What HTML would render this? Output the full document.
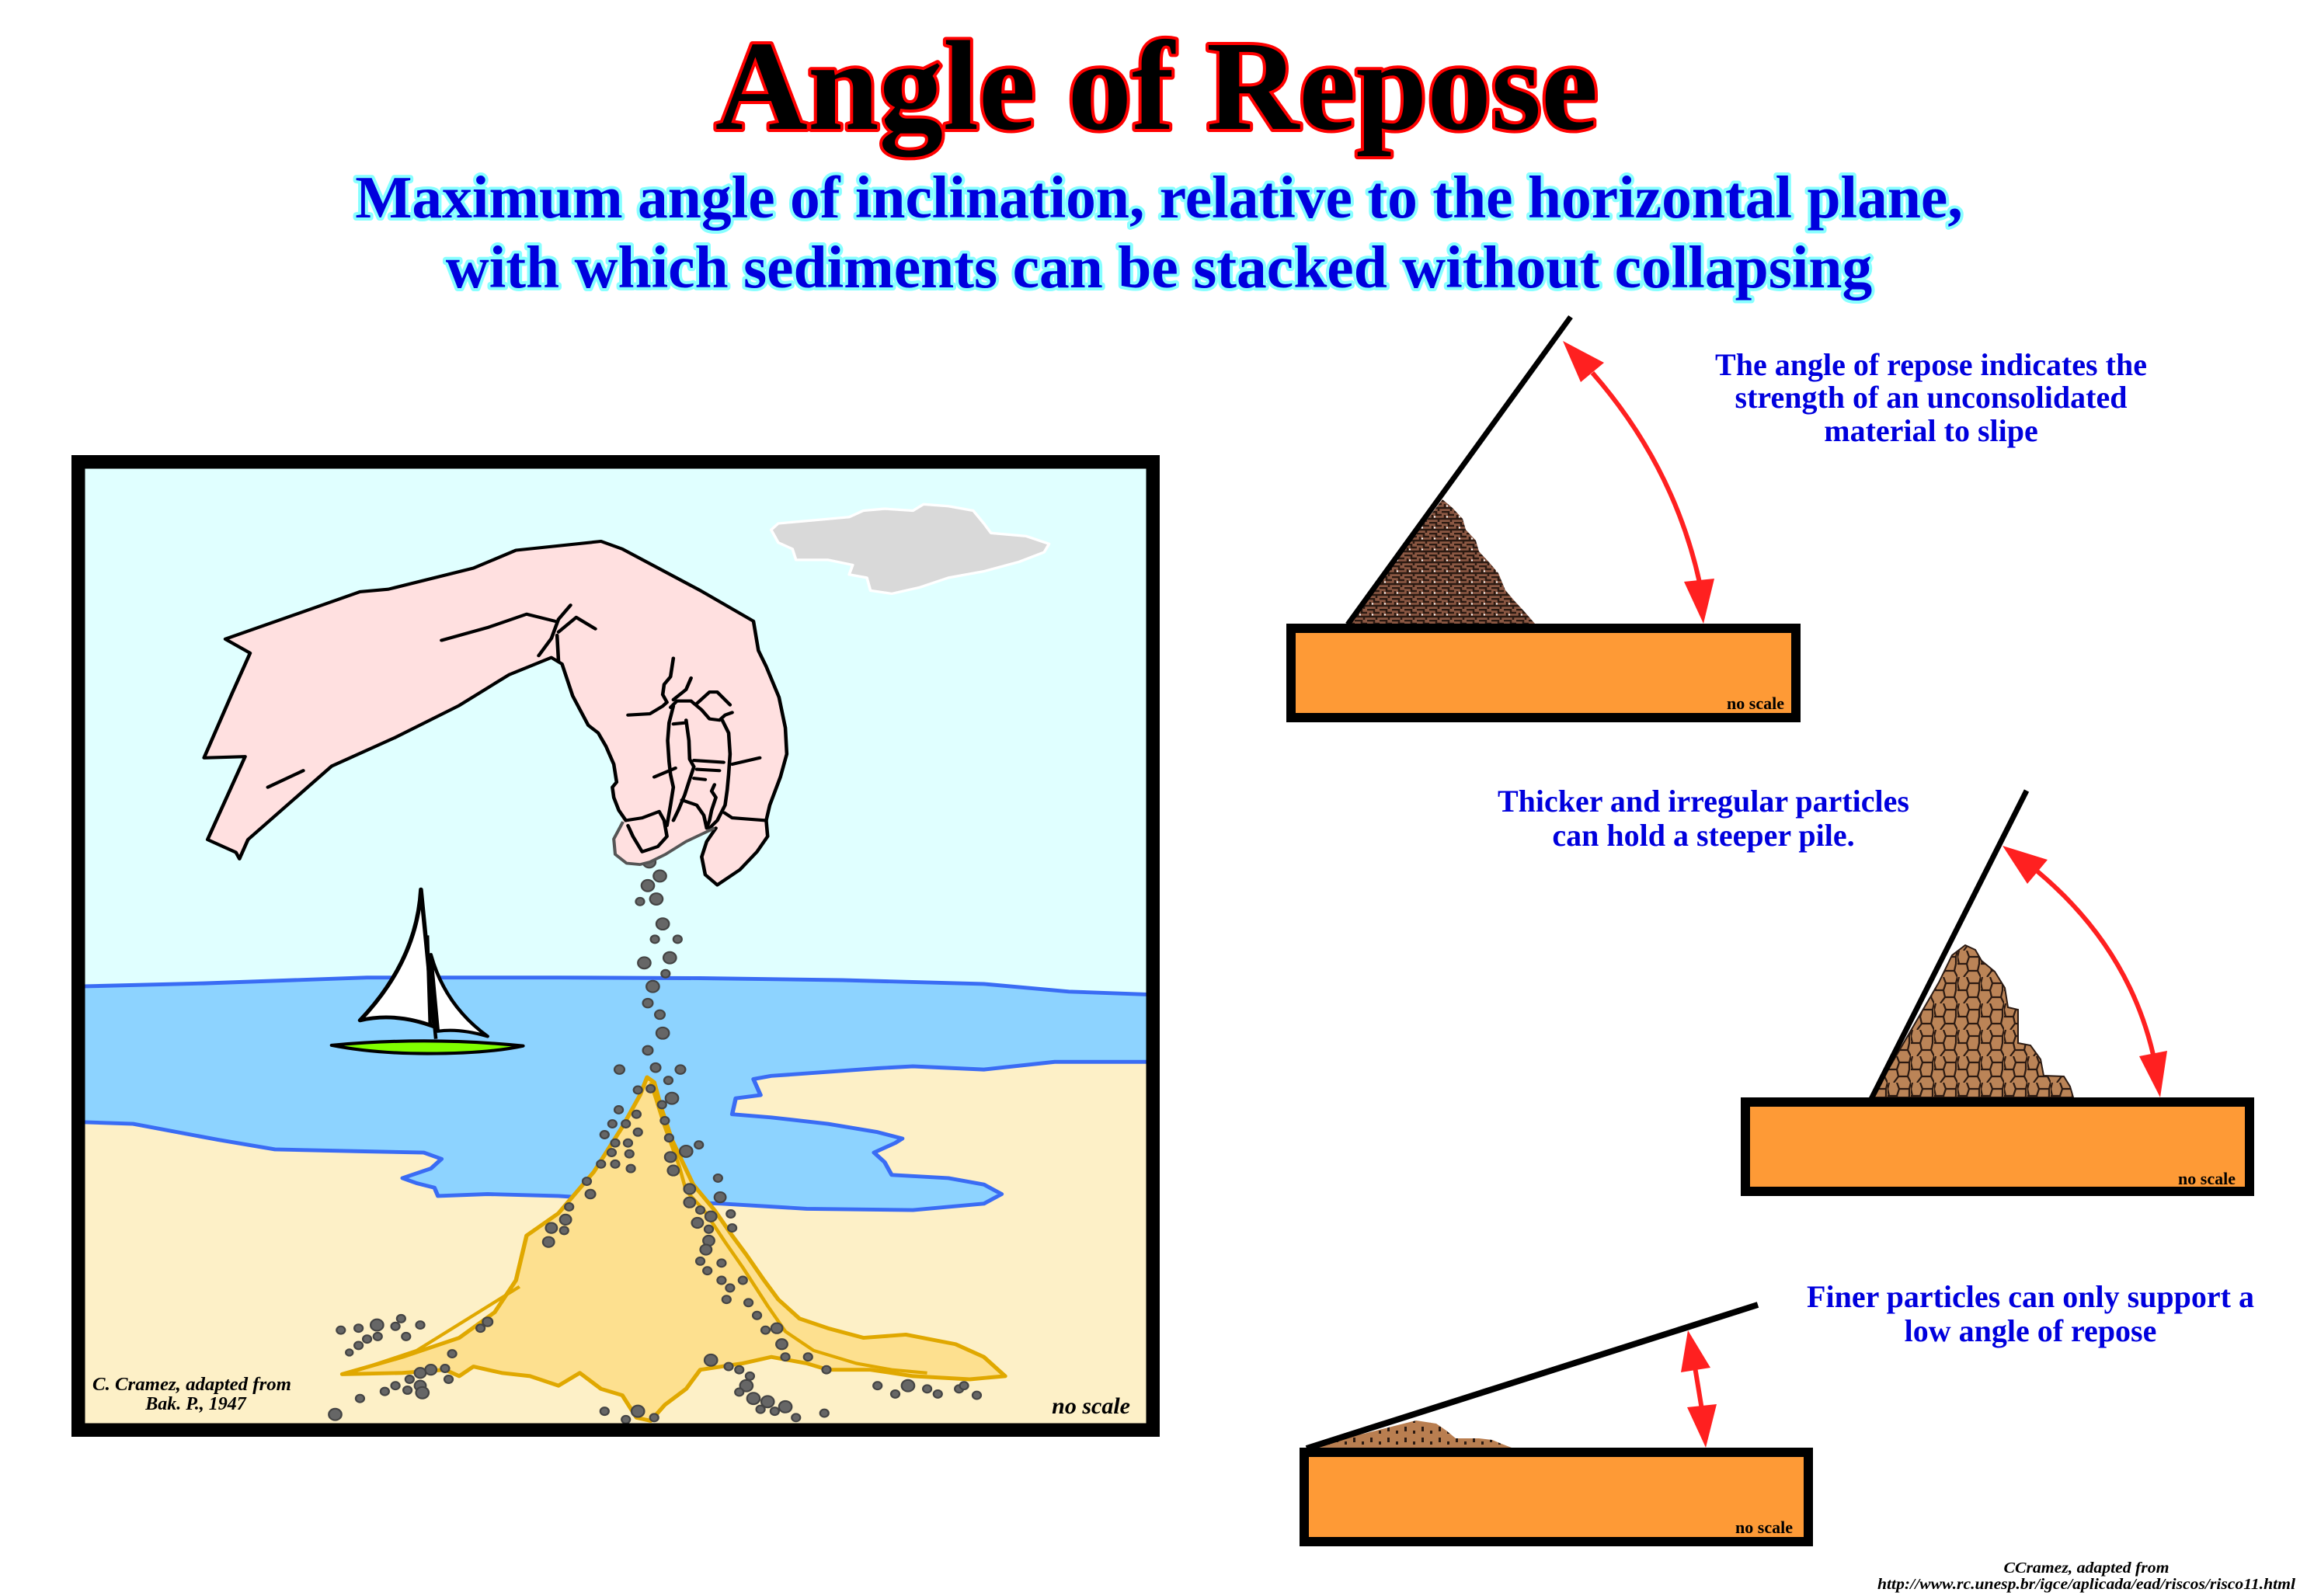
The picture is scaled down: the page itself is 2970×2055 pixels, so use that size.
<!DOCTYPE html>
<html><head><meta charset="utf-8"><style>html,body{margin:0;padding:0;background:#fff;}svg{display:block}</style></head>
<body>
<svg xmlns="http://www.w3.org/2000/svg" width="2970" height="2055" viewBox="0 0 2970 2055">
<defs>
<pattern id="p1" width="16" height="14" patternUnits="userSpaceOnUse">
<rect width="16" height="14" fill="#8b5843"/>
<path d="M0 1H9V5H16M4 5V10H12V14M12 10H16M0 10H4" stroke="#2b1a12" stroke-width="2.5" fill="none"/>
<rect x="6" y="6.5" width="2" height="2" fill="#fff"/>
</pattern>
<pattern id="p2" width="30" height="34" patternUnits="userSpaceOnUse">
<rect width="30" height="34" fill="#bb8457"/>
<path d="M2 0L0 8L2 17L12 17L15 8L12 0M15 8L28 8L30 0M12 17L14 26L8 34M14 26L26 26L28 17L28 8M26 26L30 34M0 17L2 17" stroke="#2b1a12" stroke-width="2.2" fill="none"/>
</pattern>
<pattern id="p3" width="22" height="14" patternUnits="userSpaceOnUse">
<rect width="22" height="14" fill="#b97e50"/>
<rect x="4" y="3" width="3" height="6" fill="#2b1a12"/>
<rect x="15" y="8" width="3" height="4" fill="#2b1a12"/>
</pattern>
</defs>

<!-- Title -->
<text x="1489" y="166" text-anchor="middle" font-family="'Liberation Serif', serif" font-weight="bold" font-size="165" fill="#000" stroke="#ff0000" stroke-width="8" stroke-linejoin="round" paint-order="stroke">Angle of Repose</text>
<text x="1492" y="280" text-anchor="middle" font-family="'Liberation Serif', serif" font-weight="bold" font-size="77.5" fill="#0000dd" stroke="#88ffff" stroke-width="8" stroke-linejoin="round" paint-order="stroke">Maximum angle of inclination, relative to the horizontal plane,</text>
<text x="1492" y="370" text-anchor="middle" font-family="'Liberation Serif', serif" font-weight="bold" font-size="77.5" fill="#0000dd" stroke="#88ffff" stroke-width="8" stroke-linejoin="round" paint-order="stroke">with which sediments can be stacked without collapsing</text>

<!-- Scene -->
<g transform="translate(80.1 579.4) scale(0.9127 0.8224)">
<rect x="20" y="20" width="1520" height="1510" fill="#e0ffff"/>
<rect x="20" y="950" width="1520" height="580" fill="#fdf0c7"/>
<path d="M20 840L200 835L430 826L700 826L900 827L1100 830L1300 836L1420 848L1545 853L1545 958L1400 958L1300 970L1200 965L1150 968L1000 980L975 985L985 1010L950 1015L945 1040L1000 1045L1080 1055L1150 1068L1185 1078L1175 1085L1145 1100L1160 1115L1170 1135L1250 1140L1300 1150L1325 1165L1300 1180L1200 1190L1050 1188L930 1180L800 1175L700 1168L600 1165L530 1168L525 1155L500 1148L480 1140L520 1125L535 1110L510 1100L420 1098L300 1095L220 1080L100 1055L20 1052Z" fill="#8dd3ff" stroke="#3a6cf4" stroke-width="6" stroke-linejoin="round"/>
<!-- cloud -->
<path d="M1000 125L1010 115L1060 110L1110 105L1130 95L1160 92L1200 95L1215 85L1250 88L1285 95L1300 115L1310 130L1360 135L1392 147L1385 160L1350 175L1300 190L1250 200L1210 215L1170 225L1140 220L1135 200L1110 195L1115 180L1080 172L1035 172L1030 155L1010 145Z" fill="#d9d9d9" stroke="#fff" stroke-width="4" stroke-linejoin="round"/>
<!-- boat -->
<path d="M506 688Q500 800 420 893Q470 880 525 903Z" fill="#fff" stroke="#000" stroke-width="6" stroke-linejoin="round"/>
<path d="M520 790Q540 870 600 918Q560 905 530 910Z" fill="#fff" stroke="#000" stroke-width="5" stroke-linejoin="round"/>
<path d="M506 687L527 922M515 760L519 900" stroke="#000" stroke-width="5" fill="none"/>
<path d="M380 932Q515 918 650 933Q600 945 515 945Q440 945 380 932Z" fill="#80ff00" stroke="#000" stroke-width="5" stroke-linejoin="round"/>
<!-- pile -->
<path d="M395 1447L480 1420L560 1390L610 1350L640 1300L655 1230L700 1195L750 1130L790 1060L815 1010L825 982L835 990L845 1030L860 1080L890 1150L920 1190L945 1230L965 1260L990 1300L1010 1330L1040 1360L1080 1375L1130 1390L1190 1385L1260 1400L1300 1420L1330 1450L1280 1455L1200 1450L1140 1440L1080 1440L1050 1430L1000 1420L960 1430L900 1440L880 1470L850 1495L830 1520L810 1515L790 1480L760 1470L730 1445L700 1465L660 1450L620 1445L580 1435L560 1450L540 1440L480 1445Z" fill="#fde08f" stroke="#e0a800" stroke-width="6" stroke-linejoin="round"/>
<path d="M405 1445L500 1410L645 1310M830 990L850 1060L870 1120L880 1160L905 1190L935 1240L960 1280L995 1340L1020 1380L1060 1410L1120 1430L1170 1440L1220 1445" fill="none" stroke="#e0a800" stroke-width="5" stroke-linejoin="round"/>
<!-- pebbles -->
<g fill="#666" stroke="#444" stroke-width="2.5">
<circle cx="828" cy="645" r="9"/><circle cx="843" cy="667" r="9"/><circle cx="826" cy="682" r="9"/><circle cx="838" cy="703" r="9"/><circle cx="815" cy="707" r="6"/><circle cx="847" cy="742" r="9"/><circle cx="836" cy="766" r="6"/><circle cx="868" cy="766" r="6"/><circle cx="857" cy="795" r="9"/><circle cx="821" cy="803" r="9"/><circle cx="851" cy="820" r="6"/><circle cx="833" cy="840" r="9"/><circle cx="826" cy="866" r="7"/><circle cx="843" cy="884" r="7"/><circle cx="847" cy="913" r="9"/><circle cx="826" cy="940" r="7"/><circle cx="786" cy="970" r="7"/><circle cx="837" cy="967" r="7"/><circle cx="872" cy="970" r="7"/><circle cx="855" cy="987" r="6"/><circle cx="830" cy="1000" r="6"/><circle cx="812" cy="1002" r="6"/><circle cx="860" cy="1015" r="9"/><circle cx="846" cy="1025" r="6"/><circle cx="785" cy="1033" r="6"/><circle cx="810" cy="1040" r="6"/><circle cx="850" cy="1050" r="6"/><circle cx="776" cy="1055" r="6"/><circle cx="795" cy="1055" r="6"/><circle cx="812" cy="1068" r="6"/><circle cx="765" cy="1072" r="6"/><circle cx="780" cy="1085" r="6"/><circle cx="798" cy="1085" r="6"/><circle cx="775" cy="1100" r="6"/><circle cx="800" cy="1102" r="6"/><circle cx="856" cy="1077" r="6"/><circle cx="898" cy="1088" r="6"/><circle cx="880" cy="1098" r="9"/><circle cx="858" cy="1107" r="8"/><circle cx="862" cy="1128" r="8"/><circle cx="760" cy="1118" r="6"/><circle cx="780" cy="1118" r="6"/><circle cx="802" cy="1125" r="6"/><circle cx="740" cy="1145" r="6"/><circle cx="745" cy="1165" r="7"/><circle cx="885" cy="1157" r="8"/><circle cx="925" cy="1140" r="6"/><circle cx="885" cy="1178" r="8"/><circle cx="928" cy="1170" r="8"/><circle cx="715" cy="1185" r="6"/><circle cx="900" cy="1190" r="6"/><circle cx="943" cy="1196" r="6"/><circle cx="896" cy="1210" r="8"/><circle cx="915" cy="1200" r="8"/><circle cx="710" cy="1205" r="8"/><circle cx="690" cy="1218" r="8"/><circle cx="708" cy="1222" r="6"/><circle cx="945" cy="1218" r="6"/><circle cx="912" cy="1220" r="6"/><circle cx="686" cy="1240" r="8"/><circle cx="912" cy="1238" r="8"/><circle cx="908" cy="1252" r="8"/><circle cx="900" cy="1270" r="6"/><circle cx="930" cy="1273" r="6"/><circle cx="910" cy="1285" r="6"/><circle cx="930" cy="1300" r="6"/><circle cx="960" cy="1300" r="6"/><circle cx="942" cy="1312" r="6"/><circle cx="937" cy="1330" r="6"/><circle cx="968" cy="1335" r="6"/><circle cx="980" cy="1355" r="6"/><circle cx="1008" cy="1375" r="8"/><circle cx="992" cy="1378" r="6"/><circle cx="1015" cy="1400" r="8"/><circle cx="1020" cy="1420" r="6"/><circle cx="1052" cy="1420" r="6"/><circle cx="1078" cy="1440" r="6"/><circle cx="915" cy="1425" r="9"/><circle cx="940" cy="1435" r="6"/><circle cx="955" cy="1440" r="6"/><circle cx="970" cy="1450" r="6"/><circle cx="965" cy="1465" r="9"/><circle cx="955" cy="1475" r="6"/><circle cx="975" cy="1485" r="9"/><circle cx="995" cy="1490" r="9"/><circle cx="985" cy="1502" r="6"/><circle cx="1005" cy="1505" r="6"/><circle cx="1020" cy="1498" r="9"/><circle cx="1035" cy="1515" r="6"/><circle cx="1075" cy="1508" r="6"/><circle cx="1150" cy="1465" r="6"/><circle cx="1175" cy="1478" r="6"/><circle cx="1193" cy="1465" r="9"/><circle cx="1220" cy="1470" r="6"/><circle cx="1235" cy="1478" r="6"/><circle cx="1265" cy="1470" r="6"/><circle cx="1290" cy="1480" r="6"/><circle cx="1272" cy="1465" r="6"/><circle cx="600" cy="1365" r="7"/><circle cx="590" cy="1375" r="6"/><circle cx="550" cy="1415" r="6"/><circle cx="540" cy="1438" r="6"/><circle cx="505" cy="1445" r="8"/><circle cx="520" cy="1440" r="8"/><circle cx="490" cy="1455" r="6"/><circle cx="505" cy="1465" r="8"/><circle cx="470" cy="1465" r="6"/><circle cx="487" cy="1472" r="6"/><circle cx="455" cy="1474" r="6"/><circle cx="508" cy="1476" r="9"/><circle cx="545" cy="1455" r="6"/><circle cx="420" cy="1485" r="6"/><circle cx="385" cy="1510" r="9"/><circle cx="393" cy="1378" r="6"/><circle cx="418" cy="1375" r="6"/><circle cx="444" cy="1370" r="9"/><circle cx="470" cy="1372" r="6"/><circle cx="478" cy="1360" r="6"/><circle cx="505" cy="1370" r="6"/><circle cx="430" cy="1392" r="6"/><circle cx="445" cy="1388" r="6"/><circle cx="485" cy="1388" r="6"/><circle cx="418" cy="1402" r="6"/><circle cx="405" cy="1413" r="5"/><circle cx="812" cy="1505" r="9"/><circle cx="765" cy="1505" r="6"/><circle cx="795" cy="1518" r="6"/><circle cx="835" cy="1515" r="6"/>
</g>
<!-- hand -->
<path d="M230 296L420 222L460 218L580 185L640 157L760 143L790 155L900 220L975 268L982 314L993 339L1011 387L1020 435L1022 476L1013 512L998 556L993 580L995 605L980 629L956 657L924 681L907 665L902 637L909 613L922 592L880 613L851 633L829 645L815 649L796 647L780 633L778 609L791 582L785 564L778 544L776 528L782 520L778 492L767 464L756 443L742 431L720 385L705 335L690 325L630 352L560 400L470 450L380 495L262 610L250 640L245 630L205 610L258 480L200 482L240 380L265 318Z" fill="#ffe0e0"/>
<g fill="none" stroke="#000" stroke-width="5" stroke-linejoin="round" stroke-linecap="round">
<path d="M250 640L245 630L205 610L258 480L200 482L240 380L265 318L230 296L420 222L460 218L580 185L640 157L760 143L790 155L900 220L975 268L982 314L993 339L1011 387L1020 435L1022 476L1013 512L998 556L993 580L995 605L980 629L956 657L924 681L907 665L902 637L909 613L922 592"/>
<path d="M250 640L262 610L380 495L470 450L560 400L630 352L690 325L705 335L720 385L742 431L756 443L767 464L778 492L782 520L776 528L778 544L785 564L795 580"/>
<path d="M795 580L818 576L842 566L849 580L853 605L840 621L818 629L805 605L798 588"/>
<path d="M934 568L945 576L993 580"/>
<path d="M862 326L858 355L849 367L847 383L853 395L847 401L829 413L798 415"/>
<path d="M887 357L880 375L862 391"/>
<path d="M858 403L867 393L887 393L902 407L913 421L927 423L935 415L945 411"/>
<path d="M895 397L913 379L924 379L942 399"/>
<path d="M862 401L856 427L854 455L856 488L858 508L862 528L858 556L853 588"/>
<path d="M880 423L884 455L885 484L891 496L885 516L878 540L869 564L862 580"/>
<path d="M862 429L880 427"/>
<path d="M931 423L940 443L942 476L940 508L938 532L935 556L924 580L913 592"/>
<path d="M891 486L933 489M895 500L927 502M891 514L907 516"/>
<path d="M835 512L865 498"/>
<path d="M945 492L984 482"/>
<path d="M874 548L895 556L905 572L909 592"/>
<path d="M920 524L916 534L922 544L916 564L913 580L909 592"/>
<path d="M535 298L600 278L655 257L695 268"/>
<path d="M717 243L700 265L690 295L672 322"/>
<path d="M700 285L725 262L752 280"/>
<path d="M698 290L700 330"/>
<path d="M290 528L340 502"/>
</g>
<path d="M791 582L778 609L780 633L796 647L815 649L829 645L851 633L880 613L920 592" fill="none" stroke="#555" stroke-width="4.5" stroke-linejoin="round"/>
</g>
<!-- frame -->
<rect x="100.75" y="594.75" width="1383.5" height="1246.5" fill="none" stroke="#000" stroke-width="17.5"/>
<g font-family="'Liberation Serif', serif" font-style="italic" font-weight="bold" fill="#000">
<text x="247" y="1790" text-anchor="middle" font-size="24" textLength="256" lengthAdjust="spacingAndGlyphs">C. Cramez, adapted from</text>
<text x="252" y="1815" text-anchor="middle" font-size="24">Bak. P., 1947</text>
<text x="1455" y="1820" text-anchor="end" font-size="30">no scale</text>
</g>

<!-- Diagram 1 -->
<polygon points="1735,803 1857,643 1870,654 1883,668 1887,682 1900,696 1904,710 1917,724 1929,738 1938,760 1950,774 1963,788 1976,803" fill="url(#p1)"/>
<line x1="1735" y1="804" x2="2022" y2="408" stroke="#000" stroke-width="7"/>
<rect x="1662" y="809" width="650" height="115" fill="#fe9a36" stroke="#000" stroke-width="12"/>
<text x="2297" y="913" text-anchor="end" font-family="'Liberation Serif', serif" font-weight="bold" font-size="22">no scale</text>
<path d="M2050 480Q2155 600 2188 750" fill="none" stroke="#ff2020" stroke-width="6"/>
<polygon points="2012,439 2035,492 2065,467" fill="#ff2020"/>
<polygon points="2193,803 2168,749 2207,745" fill="#ff2020"/>
<g font-family="'Liberation Serif', serif" font-weight="bold" font-size="40" fill="#0000dd" text-anchor="middle">
<text x="2486" y="483">The angle of repose indicates the</text>
<text x="2486" y="525">strength of an unconsolidated</text>
<text x="2486" y="568">material to slipe</text>
<text x="2193" y="1045">Thicker and irregular particles</text>
<text x="2193" y="1089">can hold a steeper pile.</text>
<text x="2614" y="1683">Finer particles can only support a</text>
<text x="2614" y="1727">low angle of repose</text>
</g>

<!-- Diagram 2 -->
<polygon points="2410,1413 2496,1265 2513,1230 2530,1217 2543,1223 2551,1237 2568,1251 2581,1272 2585,1297 2598,1300 2598,1343 2614,1346 2627,1364 2631,1385 2657,1386 2665,1399 2669,1413" fill="url(#p2)" stroke="#2b1a12" stroke-width="2"/>
<line x1="2409" y1="1415" x2="2609" y2="1018" stroke="#000" stroke-width="7"/>
<rect x="2247" y="1419" width="649" height="115" fill="#fe9a36" stroke="#000" stroke-width="12"/>
<text x="2878" y="1525" text-anchor="end" font-family="'Liberation Serif', serif" font-weight="bold" font-size="22">no scale</text>
<path d="M2623 1122Q2740 1220 2772 1358" fill="none" stroke="#ff2020" stroke-width="6"/>
<polygon points="2578,1089 2610,1138 2636,1107" fill="#ff2020"/>
<polygon points="2781,1413 2754,1360 2790,1353" fill="#ff2020"/>

<!-- Diagram 3 -->
<polygon points="1684,1864 1823,1829 1849,1833 1862,1842 1874,1852 1904,1852 1921,1854 1933,1859 1946,1864" fill="url(#p3)"/>
<line x1="1682" y1="1865" x2="2263" y2="1680" stroke="#000" stroke-width="8"/>
<rect x="1679" y="1870" width="649" height="115" fill="#fe9a36" stroke="#000" stroke-width="12"/>
<text x="2308" y="1974" text-anchor="end" font-family="'Liberation Serif', serif" font-weight="bold" font-size="22">no scale</text>
<line x1="2182" y1="1760" x2="2191" y2="1815" stroke="#ff2020" stroke-width="6"/>
<polygon points="2173,1713 2164,1767 2202,1761" fill="#ff2020"/>
<polygon points="2196,1864 2172,1812 2210,1808" fill="#ff2020"/>

<!-- credit -->
<g font-family="'Liberation Serif', serif" font-style="italic" font-weight="bold" fill="#000" text-anchor="middle">
<text x="2686" y="2025" font-size="20" textLength="213" lengthAdjust="spacingAndGlyphs">CCramez, adapted from</text>
<text x="2686" y="2046" font-size="20" textLength="538" lengthAdjust="spacingAndGlyphs">http://www.rc.unesp.br/igce/aplicada/ead/riscos/risco11.html</text>
</g>
</svg>
</body></html>
